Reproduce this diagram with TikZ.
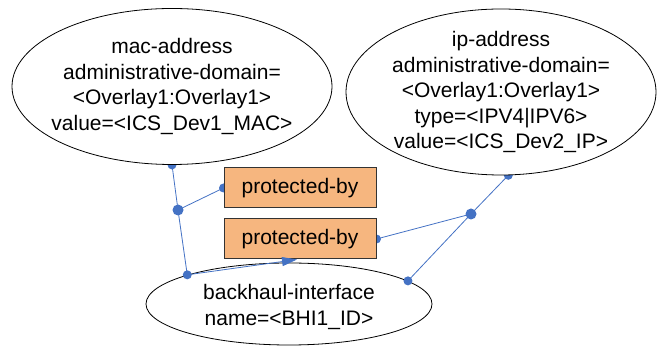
\documentclass[tikz,border=0pt]{standalone}
\usepackage{fontspec}
\setmainfont{Liberation Sans}
\usetikzlibrary{shapes.geometric,arrows.meta,backgrounds}
\definecolor{linkblue}{HTML}{4472C4}
\definecolor{boxfill}{HTML}{F6B67F}
\tikzset{
  x=1pt, y=1pt,
  every node/.style={font=\fontsize{21}{25.5}\selectfont},
  entity/.style={ellipse, draw=black, line width=0.8pt, fill=white, inner sep=0pt},
  entitytext/.style={label={[align=center]center:{#1}}},
  relbox/.style={rectangle, draw=black!80, line width=1pt, fill=boxfill,
                 minimum width=152pt, minimum height=40pt, inner sep=0pt},
  link/.style={draw=linkblue, line width=0.8pt},
  enddot/.style={fill=linkblue, draw=none},
}
\begin{document}
\begin{tikzpicture}
\useasboundingbox (0,0) rectangle (658,347);

% entities: the ellipse is sized by hand, the text sits centred as a label
\node[entity, minimum width=320pt, minimum height=156pt,
      entitytext={mac-address\\administrative-domain=\\<Overlay1:Overlay1>\\value=<ICS\_Dev1\_MAC>}]
  (mac) at (172,260.5) {};
\node[entity, minimum width=310pt, minimum height=166pt,
      entitytext={ip-address\\administrative-domain=\\<Overlay1:Overlay1>\\type=<IPV4|IPV6>\\value=<ICS\_Dev2\_IP>}]
  (ip) at (501,255) {};
\node[entity, minimum width=286pt, minimum height=82pt] (bhi) at (289,43) {};
\node[align=center] (bhitext) at (289,40)
  {backhaul-interface\\name=<BHI1\_ID>};

% relationships
\node[relbox] (rel1) at (300,159) {protected-by};
\node[relbox] (rel2) at (300,108) {protected-by};

% junction points
\coordinate (j1) at (178,137);
\coordinate (j2) at (471,133);

\begin{pgfonlayer}{background}
  \draw[link] (mac.south) -- (j1) -- (bhi.164);
  \draw[link] (j1) -- (rel1.west);
  \draw[link] (ip.-85) -- (j2) -- (bhi.11);
  \draw[link] (j2) -- (rel2.east);
  \foreach \p in {mac.south, rel1.west, rel2.east, ip.-85}
    \fill[enddot] (\p) circle (4.5pt);
  \foreach \p in {j1, j2}
    \fill[enddot] (\p) circle (5.5pt);
\end{pgfonlayer}

% connector from the backhaul interface up to the lower relationship
\draw[link, -{Triangle[length=15pt,width=9pt]}] (bhi.164) -- ([xshift=-3pt]rel2.south);
\foreach \p in {bhi.164, bhi.11}
  \fill[enddot] (\p) circle (4.5pt);
\end{tikzpicture}
\end{document}
